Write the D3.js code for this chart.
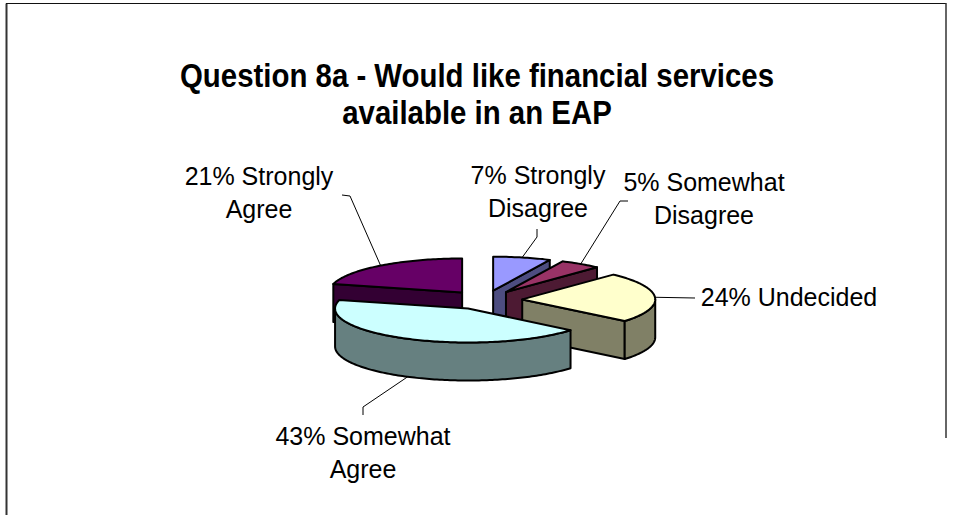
<!DOCTYPE html>
<html>
<head>
<meta charset="utf-8">
<script src="https://cdn.jsdelivr.net/npm/d3@7"></script>
<style>
  html, body { margin: 0; padding: 0; background: #fff; }
  svg { display: block; }
  text { font-family: "Liberation Sans", Arial, sans-serif; fill: #000; }
</style>
</head>
<body>
<svg id="chart" width="955" height="515"></svg>
<script>
// Survey responses, clockwise from 12 o'clock
const categories = ["Strongly Disagree", "Somewhat Disagree", "Undecided", "Somewhat Agree", "Strongly Agree"];
const percents   = [7, 5, 24, 43, 21];
const labelLines = [
  ["7% Strongly", "Disagree"],
  ["5% Somewhat", "Disagree"],
  ["24% Undecided"],
  ["43% Somewhat", "Agree"],
  ["21% Strongly", "Agree"]
];
const titleLines = ["Question 8a - Would like financial services", "available in an EAP"];

// Face colours (top) and shaded colours (walls / rim)
const topColors  = ["#9999FF", "#993366", "#FFFFCC", "#CCFFFF", "#660066"];
const sideColors = ["#4D4D80", "#4D1A33", "#808066", "#668080", "#330033"];

// Label placement: centre x, first baseline, and leader elbow points
const labelLayout = [
  { x: 538, y: 184, leader: [[537, 229], [537, 237]] },
  { x: 704, y: 191, leader: [[628, 201], [620, 201]] },
  { x: 789, y: 306, leader: [[695, 298]] },
  { x: 363, y: 445, leader: [[363, 415], [363, 407]] },
  { x: 259, y: 185, leader: [[342, 195], [350, 196]] }
];

const svg = d3.select("#chart");

// Chart frame
svg.append("line").attr("x1", 6.5).attr("y1", 3.5).attr("x2", 6.5).attr("y2", 515)
  .attr("stroke", "#333").attr("stroke-width", 2);
svg.append("line").attr("x1", 6).attr("y1", 3.5).attr("x2", 946).attr("y2", 3.5)
  .attr("stroke", "#111").attr("stroke-width", 1.2);
svg.append("line").attr("x1", 946).attr("y1", 3).attr("x2", 946).attr("y2", 438)
  .attr("stroke", "#333").attr("stroke-width", 1.5);

// Title (slightly condensed, tall lettering)
svg.append("g").selectAll("text").data(titleLines).join("text")
  .attr("transform", (d, i) => `translate(477,${87 + i * 37}) scale(0.98,1.13)`)
  .attr("text-anchor", "middle")
  .style("font-weight", "bold").style("font-size", "30px")
  .text(d => d);

// 3-D pie geometry
const cx = 485, cy = 300, rx = 133, ry = 34, depth = 38, explode = 37.3;
const tilt = ry / rx;

const arcs = d3.pie().sort(null).startAngle(0).endAngle(2 * Math.PI)(percents);

function offsetOf(a) {
  const m = (a.startAngle + a.endAngle) / 2;
  return [explode * Math.sin(m), -explode * tilt * Math.cos(m)];
}
function pt(a, theta, dz, r = 1) {
  const [ox, oy] = offsetOf(a);
  return [cx + ox + rx * r * Math.sin(theta), cy + oy - ry * r * Math.cos(theta) + dz];
}
function rim(a, t0, t1, dz) {
  const n = Math.max(2, Math.ceil(Math.abs(t1 - t0) / 0.02));
  return d3.range(n + 1).map(i => pt(a, t0 + (t1 - t0) * i / n, dz));
}
const line = d3.line();

// Paint back slices first
const order = arcs.map((a, i) => i)
  .sort((i, j) => -Math.cos((arcs[i].startAngle + arcs[i].endAngle) / 2) + Math.cos((arcs[j].startAngle + arcs[j].endAngle) / 2));

const pieG = svg.append("g").attr("stroke", "#000").attr("stroke-width", 2).attr("stroke-linejoin", "round");

order.forEach(i => {
  const a = arcs[i];
  const s = a.startAngle, e = a.endAngle;
  const g = pieG.append("g").attr("class", "slice");
  const c0 = pt(a, 0, 0, 0), c1 = pt(a, 0, depth, 0);

  // start wall faces the viewer when it lies on the left half
  if (Math.sin(s) < -1e-6) {
    g.append("path").attr("fill", sideColors[i])
      .attr("d", line([c0, pt(a, s, 0), pt(a, s, depth), c1]) + "Z");
  }
  // end wall faces the viewer when it lies on the right half
  if (Math.sin(e) > 1e-6) {
    g.append("path").attr("fill", sideColors[i])
      .attr("d", line([c0, pt(a, e, 0), pt(a, e, depth), c1]) + "Z");
  }
  // curved outer rim over the front half
  const f0 = Math.max(s, Math.PI / 2), f1 = Math.min(e, 3 * Math.PI / 2);
  if (f1 > f0) {
    const pts = rim(a, f0, f1, 0).concat(rim(a, f1, f0, depth));
    g.append("path").attr("fill", sideColors[i]).attr("d", line(pts) + "Z");
  }
  // top face
  g.append("path").attr("fill", topColors[i])
    .attr("d", line([c0].concat(rim(a, s, e, 0))) + "Z");
});

// Leader lines and labels
const lab = svg.append("g");
arcs.forEach((a, i) => {
  const m = (a.startAngle + a.endAngle) / 2;
  const end = pt(a, m, Math.cos(m) < 0 ? depth : 0);
  const L = labelLayout[i];
  lab.append("path")
    .attr("d", line(L.leader.concat([end])))
    .attr("fill", "none").attr("stroke", "#000").attr("stroke-width", 1);
  lab.append("text")
    .attr("text-anchor", "middle").style("font-size", "25px")
    .selectAll("tspan").data(labelLines[i]).join("tspan")
    .attr("x", L.x).attr("y", (d, k) => L.y + k * 33)
    .text(d => d);
});
</script>
</body>
</html>
